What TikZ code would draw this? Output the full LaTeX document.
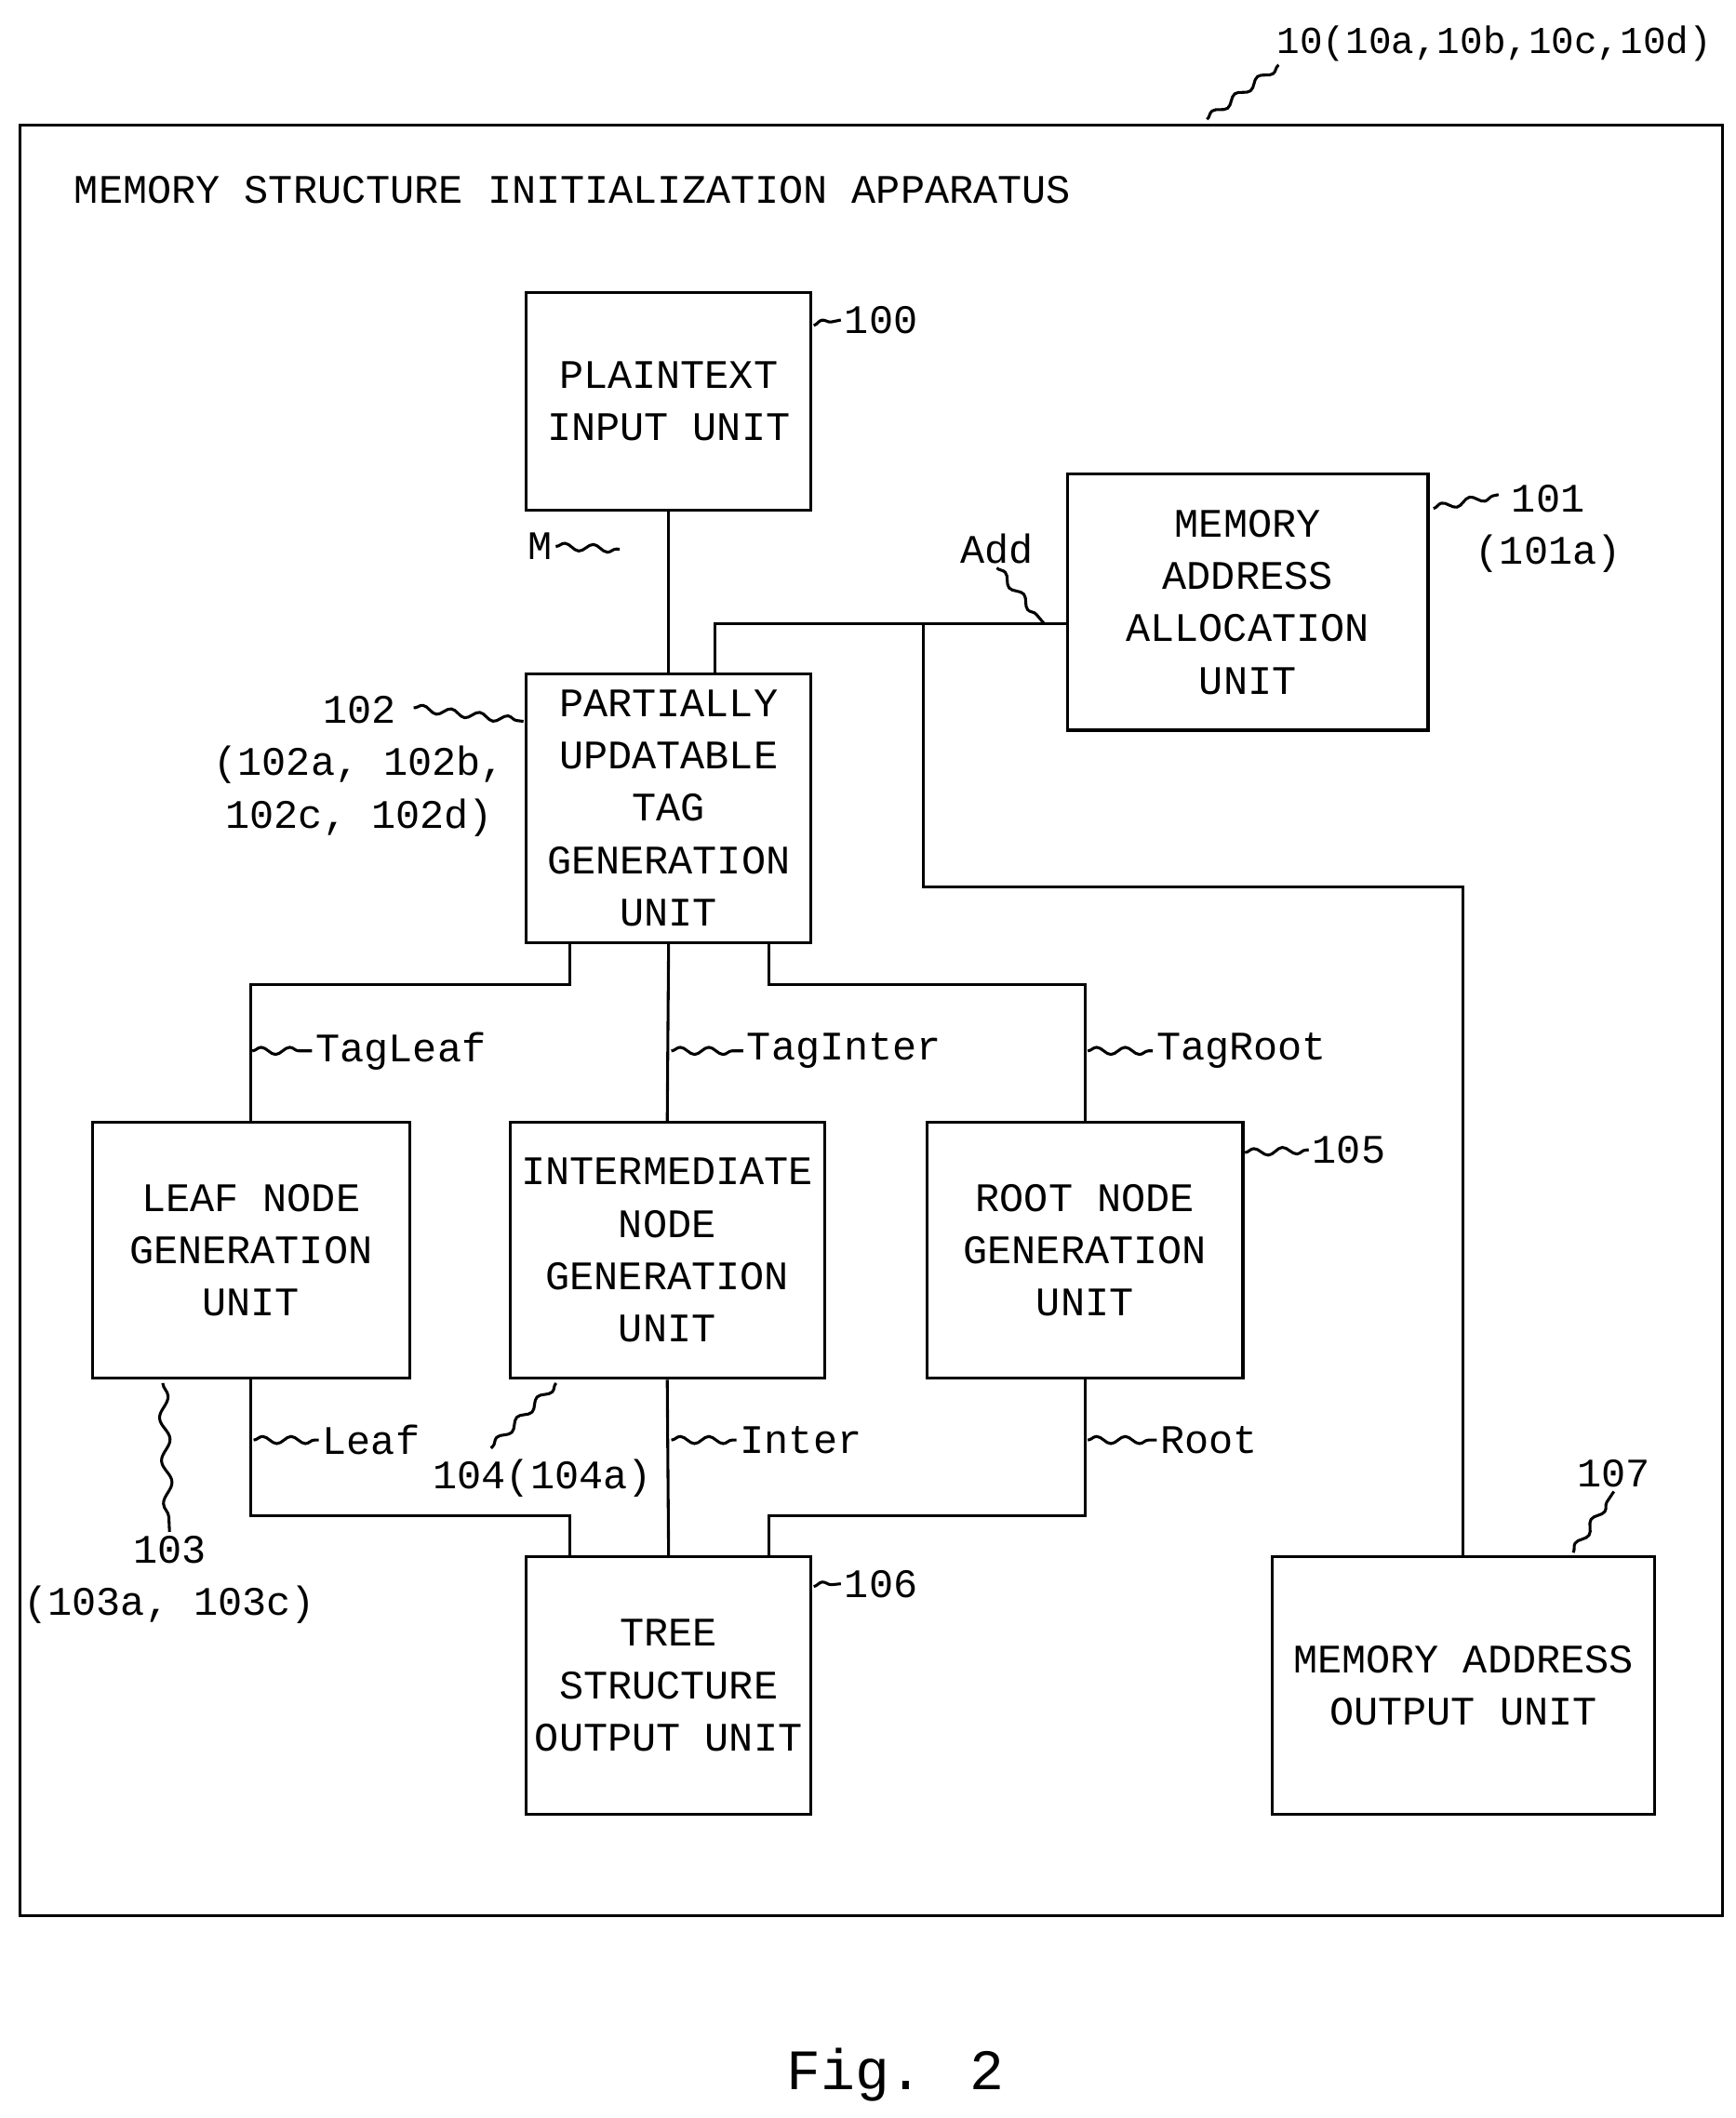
\documentclass[tikz,border=0pt]{standalone}
\usepackage{fontspec}
\setmainfont{Liberation Mono}
\usetikzlibrary{calc,decorations.pathmorphing}
\tikzset{
  unit/.style={draw, line width=1.2pt, align=center, inner sep=2pt,
    font=\fontsize{17}{22}\selectfont},
  lbl/.style={font=\fontsize{17}{22}\selectfont, align=center, inner sep=1pt},
  lead/.style={decorate, decoration={snake, amplitude=1.5pt, segment length=12pt}},
}
\begin{document}
\begin{tikzpicture}[x=0.02cm, y=-0.02cm, line width=1.2pt]
  \useasboundingbox (0,0) rectangle (1280,1562);

  % outer frame
  \draw (15,92) rectangle (1270,1413);
  \node[lbl, anchor=west] (title) at (52,140) {MEMORY STRUCTURE INITIALIZATION APPARATUS};
  \node[lbl, anchor=east, font=\fontsize{16}{20}\selectfont] (l10) at (1265,32) {10(10a,10b,10c,10d)};
  \draw[lead] (890,88) -- ($(l10.south west)+(4,0)$);

  % units
  \node[unit, minimum width=4.2cm, minimum height=3.2cm] (b100) at (493,296) {PLAINTEXT\\INPUT UNIT};
  \node[unit, minimum width=5.32cm, minimum height=3.78cm] (b101) at (920,444) {MEMORY\\ADDRESS\\ALLOCATION\\UNIT};
  \node[unit, minimum width=4.2cm, minimum height=3.96cm] (b102) at (493,596) {PARTIALLY\\UPDATABLE\\TAG\\GENERATION\\UNIT};
  \node[unit, minimum width=4.68cm, minimum height=3.78cm] (b103) at (185,922) {LEAF NODE\\GENERATION\\UNIT};
  \node[unit, minimum width=4.64cm, minimum height=3.78cm] (b104) at (492,922) {INTERMEDIATE\\NODE\\GENERATION\\UNIT};
  \node[unit, minimum width=4.66cm, minimum height=3.78cm] (b105) at (800,922) {ROOT NODE\\GENERATION\\UNIT};
  \node[unit, minimum width=4.2cm, minimum height=3.8cm] (b106) at (493,1243) {TREE\\STRUCTURE\\OUTPUT UNIT};
  \node[unit, minimum width=5.64cm, minimum height=3.8cm] (b107) at (1079,1243) {MEMORY ADDRESS\\OUTPUT UNIT};

  % reference numerals
  \node[lbl, anchor=west] (l100) at (620,236) {100};
  \draw[lead] (600,240) -- (l100.west);
  \node[lbl, anchor=west] (l101) at (1085,390) {101\\(101a)};
  \draw[lead] (1057,375) -- ($(l101.north west)+(20,10)$);
  \node[lbl] (l102) at (265,565) {102\\(102a, 102b,\\102c, 102d)};
  \draw[lead] (305,522) -- (386,532);
  \node[lbl, anchor=west] (l105) at (965,848) {105};
  \draw[lead] (918,850) -- (l105.west);
  \node[lbl, anchor=west] (l106) at (620,1168) {106};
  \draw[lead] (600,1170) -- (l106.west);
  \node[lbl] (l107) at (1190,1087) {107};
  \draw[lead] (1160,1145) -- (l107.south);
  \node[lbl] (l103) at (125,1165) {103\\(103a, 103c)};
  \draw[decorate, decoration={snake, amplitude=2pt, segment length=18pt}] (120,1020) -- (l103.north);
  \node[lbl] (l104) at (400,1090) {104(104a)};
  \draw[lead] (410,1020) -- (362,1068);

  % plaintext
  \draw (b100.south) -- (b102.north);
  \node[lbl] (lm) at (398,403) {M};
  \draw[lead] (lm.east) -- (457,405);

  % memory address
  \coordinate (jadd) at (681,460);
  \draw (b101.west |- jadd) -| ($(b102.north)+(34,0)$);
  \draw (jadd) -- (681,654) -| (b107.north);
  \node[lbl] (ladd) at (735,405) {Add};
  \draw[lead] (ladd.south) -- (770,460);

  % tags
  \draw ($(b102.south)+(-73,0)$) -- ++(0,30) -| (b103.north);
  \draw (b102.south) -- (b104.north);
  \draw ($(b102.south)+(74,0)$) -- ++(0,30) -| (b105.north);
  \node[lbl, anchor=west] (ltl) at (230,775) {TagLeaf};
  \draw[lead] (186,775) -- (ltl.west);
  \node[lbl, anchor=west] (lti) at (548,775) {TagInter};
  \draw[lead] (495,775) -- (lti.west);
  \node[lbl, anchor=west] (ltr) at (850,775) {TagRoot};
  \draw[lead] (802,775) -- (ltr.west);

  % nodes to tree output
  \draw (b103.south) -- (185,1118) -| ($(b106.north)+(-73,0)$);
  \draw (b104.south) -- (b106.north);
  \draw (b105.south) -- (800,1118) -| ($(b106.north)+(74,0)$);
  \node[lbl, anchor=west] (lleaf) at (235,1062) {Leaf};
  \draw[lead] (187,1062) -- (lleaf.west);
  \node[lbl, anchor=west] (linter) at (543,1062) {Inter};
  \draw[lead] (495,1062) -- (linter.west);
  \node[lbl, anchor=west] (lroot) at (853,1062) {Root};
  \draw[lead] (802,1062) -- (lroot.west);

  \node[font=\fontsize{24}{28}\selectfont] (fig) at (660,1530) {Fig. 2};
\end{tikzpicture}
\end{document}
